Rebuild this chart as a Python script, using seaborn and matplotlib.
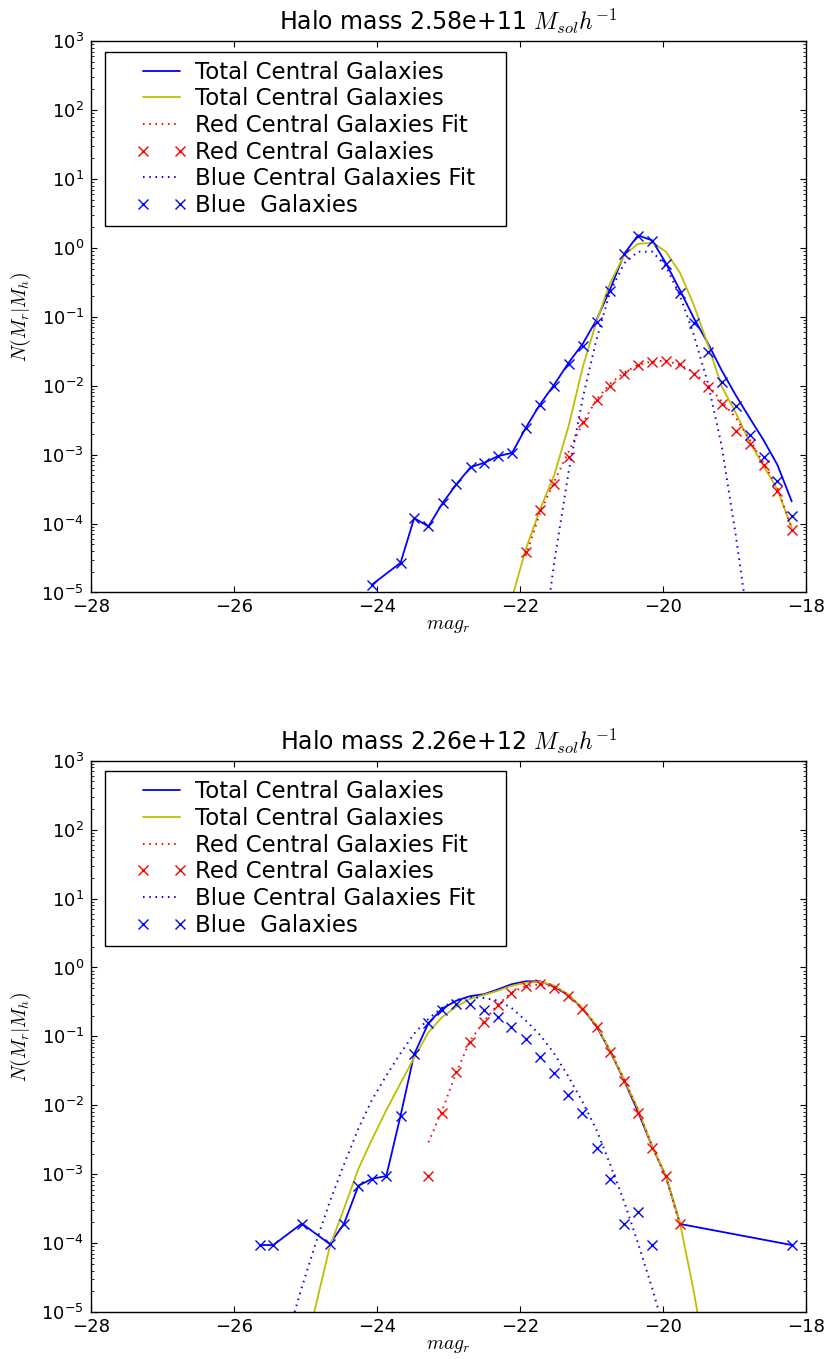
import numpy as np
import pandas as pd
import matplotlib
matplotlib.use("Agg")
import matplotlib.pyplot as plt
import seaborn as sns
from matplotlib.path import Path
from matplotlib.ticker import LogLocator, FixedLocator, NullFormatter

# ---------------- data: halo mass 2.58e+11 (top panel) ----------------
top_title = "Halo mass 2.58e+11 $M_{sol}h^{-1}$"
top_mag_blue = [-24.07, -23.67, -23.48, -23.28, -23.08, -22.89, -22.69, -22.50, -22.31, -22.11,
                -21.92, -21.72, -21.52, -21.32, -21.12, -20.93, -20.74, -20.54, -20.35, -20.15,
                -19.96, -19.76, -19.57, -19.37, -19.18, -18.98, -18.78, -18.59, -18.40, -18.20]
top_blue = [1.3e-5, 2.7e-5, 1.2e-4, 9.1e-5, 2.0e-4, 3.7e-4, 6.6e-4, 7.6e-4, 9.5e-4, 1.06e-3,
            2.4e-3, 5.2e-3, 1.0e-2, 2.06e-2, 3.8e-2, 8.4e-2, 0.24, 0.81, 1.5, 1.26,
            0.58, 0.22, 0.081, 0.031, 0.0113, 5.0e-3, 1.9e-3, 9.1e-4, 4.1e-4, 1.3e-4]
top_total = [1.3e-5, 2.7e-5, 1.2e-4, 9.1e-5, 2.0e-4, 3.7e-4, 6.6e-4, 7.6e-4, 9.5e-4, 1.06e-3,
             2.44e-3, 5.36e-3, 1.04e-2, 2.15e-2, 4.1e-2, 9.0e-2, 0.25, 0.825, 1.52, 1.28,
             0.60, 0.24, 0.096, 0.041, 0.0167, 7.2e-3, 3.3e-3, 1.6e-3, 7.1e-4, 2.1e-4]
top_mag_red = [-21.92, -21.72, -21.52, -21.32, -21.12, -20.93, -20.74, -20.54, -20.35, -20.15,
               -19.96, -19.76, -19.57, -19.37, -19.18, -18.98, -18.78, -18.59, -18.40, -18.20]
top_red = [3.9e-5, 1.56e-4, 3.8e-4, 9.3e-4, 3.0e-3, 6.3e-3, 1.0e-2, 1.5e-2, 2.0e-2, 2.2e-2,
           2.3e-2, 2.06e-2, 1.5e-2, 9.6e-3, 5.4e-3, 2.2e-3, 1.43e-3, 7.0e-4, 3.0e-4, 8.0e-5]
top_red_fit = [3.4e-5, 1.43e-4, 4.1e-4, 1.1e-3, 2.9e-3, 6.3e-3, 1.07e-2, 1.56e-2, 2.0e-2, 2.25e-2,
               2.3e-2, 2.0e-2, 1.56e-2, 1.03e-2, 5.9e-3, 3.4e-3, 1.6e-3, 7.4e-4, 3.3e-4, 8.5e-5]
top_mag_bfit = [-21.92, -21.72, -21.52, -21.32, -21.12, -20.93, -20.74, -20.54, -20.35, -20.15,
                -19.96, -19.76, -19.57, -19.37, -19.18, -18.98, -18.78, -18.59]
top_blue_fit = [1.5e-8, 8e-7, 2.8e-5, 5.6e-4, 6.8e-3, 4.7e-2, 0.23, 0.60, 0.88, 0.88,
                0.54, 0.20, 0.055, 1.07e-2, 1.35e-3, 6.5e-5, 2.2e-6, 1e-7]
top_mag_tfit = [-22.31, -22.11, -21.92, -21.72, -21.52, -21.32, -21.12, -20.93, -20.74, -20.54,
                -20.35, -20.15, -19.96, -19.76, -19.57, -19.37, -19.18, -18.98, -18.78, -18.59,
                -18.40, -18.20]
top_total_fit = [1e-6, 8.5e-6, 4.2e-5, 1.6e-4, 5.1e-4, 2.6e-3, 1.9e-2, 8.5e-2, 0.31, 0.79,
                 1.14, 1.19, 0.88, 0.43, 0.149, 0.039, 9.8e-3, 4.0e-3, 1.48e-3, 6.8e-4,
                 3.1e-4, 8.7e-5]

# ---------------- data: halo mass 2.26e+12 (bottom panel) ----------------
bot_title = "Halo mass 2.26e+12 $M_{sol}h^{-1}$"
bot_mag_blue = [-25.63, -25.45, -25.05, -24.66, -24.46, -24.26, -24.07, -23.87, -23.67, -23.48,
                -23.28, -23.09, -22.89, -22.70, -22.50, -22.31, -22.12, -21.92, -21.72, -21.53,
                -21.33, -21.13, -20.93, -20.74, -20.54, -20.35, -20.15, -18.20]
bot_blue = [9.4e-5, 9.4e-5, 1.93e-4, 9.7e-5, 1.93e-4, 6.8e-4, 8.6e-4, 9.4e-4, 7.1e-3, 5.5e-2,
            0.155, 0.244, 0.30, 0.30, 0.244, 0.19, 0.138, 0.091, 0.051, 0.029,
            0.0143, 7.7e-3, 2.4e-3, 8.4e-4, 1.9e-4, 2.8e-4, 9.4e-5, 9.4e-5]
bot_mag_total = [-25.63, -25.45, -25.05, -24.66, -24.46, -24.26, -24.07, -23.87, -23.67, -23.48,
                 -23.28, -23.09, -22.89, -22.70, -22.50, -22.31, -22.12, -21.92, -21.72, -21.53,
                 -21.33, -21.13, -20.93, -20.74, -20.54, -20.35, -20.15, -19.96, -19.76, -18.20]
bot_total = [9.4e-5, 9.4e-5, 1.93e-4, 9.7e-5, 1.93e-4, 6.8e-4, 8.6e-4, 9.4e-4, 7.1e-3, 5.5e-2,
             0.156, 0.252, 0.33, 0.383, 0.41, 0.48, 0.57, 0.63, 0.63, 0.53,
             0.40, 0.258, 0.14, 0.061, 0.0225, 8.1e-3, 2.5e-3, 9.4e-4, 1.9e-4, 9.4e-5]
bot_mag_red = [-23.28, -23.09, -22.89, -22.70, -22.50, -22.31, -22.12, -21.92, -21.72, -21.53,
               -21.33, -21.13, -20.93, -20.74, -20.54, -20.35, -20.15, -19.96, -19.76]
bot_red = [9.4e-4, 7.7e-3, 0.030, 0.083, 0.164, 0.29, 0.43, 0.54, 0.575, 0.50,
           0.39, 0.25, 0.138, 0.060, 0.0223, 7.8e-3, 2.4e-3, 9.4e-4, 1.9e-4]
bot_red_fit = [2.9e-3, 8.4e-3, 0.030, 0.086, 0.168, 0.29, 0.43, 0.54, 0.57, 0.53,
               0.40, 0.257, 0.143, 0.062, 0.0233, 8.4e-3, 2.5e-3, 9.2e-4, 1.8e-4]
bot_mag_bfit = [-25.63, -25.45, -25.25, -25.05, -24.86, -24.66, -24.46, -24.26, -24.07, -23.87,
                -23.67, -23.48, -23.28, -23.09, -22.89, -22.70, -22.50, -22.31, -22.12, -21.92,
                -21.72, -21.53, -21.33, -21.13, -20.93, -20.74, -20.54, -20.35, -20.15, -19.96]
bot_blue_fit = [1.4e-7, 7.6e-7, 4.5e-6, 2.3e-5, 9.8e-5, 4.0e-4, 1.4e-3, 4.6e-3, 0.012, 0.027,
                0.057, 0.11, 0.18, 0.26, 0.34, 0.37, 0.36, 0.33, 0.26, 0.17,
                0.105, 0.058, 0.027, 0.0115, 4.4e-3, 1.4e-3, 3.9e-4, 1.0e-4, 2.2e-5, 4.5e-6]
bot_mag_tfit = [-25.25, -25.05, -24.86, -24.66, -24.46, -24.26, -24.07, -23.87, -23.67, -23.48,
                -23.28, -23.09, -22.89, -22.70, -22.50, -22.31, -22.12, -21.92, -21.72, -21.53,
                -21.33, -21.13, -20.93, -20.74, -20.54, -20.35, -20.15, -19.96, -19.76, -19.57,
                -19.37]
bot_total_fit = [1.5e-7, 1.6e-6, 1.2e-5, 8.9e-5, 3.2e-4, 1.2e-3, 3.2e-3, 8.5e-3, 0.021, 0.049,
                 0.115, 0.19, 0.27, 0.35, 0.40, 0.46, 0.54, 0.60, 0.62, 0.55,
                 0.41, 0.26, 0.145, 0.062, 0.023, 8.9e-3, 2.5e-3, 9.5e-4, 1.9e-4, 2e-5,
                 1.3e-6]

legend_labels = ["Total Central Galaxies", "Total Central Galaxies", "Red Central Galaxies Fit",
                 "Red Central Galaxies", "Blue Central Galaxies Fit", "Blue  Galaxies"]
x_ticks = [-28, -26, -24, -22, -20, -18]
y_ticks = [1e-5, 1e-4, 1e-3, 1e-2, 1e-1, 1e0, 1e1, 1e2, 1e3]

# ---------------- style ----------------
sns.set_style("ticks")
plt.rcParams.update({
    "font.family": ["DejaVu Sans"],
    "mathtext.fontset": "cm",
    "axes.linewidth": 1.0,
    "axes.edgecolor": "black",
    "text.color": "black",
    "axes.labelcolor": "black",
    "xtick.color": "black",
    "ytick.color": "black",
    "xtick.direction": "in",
    "ytick.direction": "in",
    "xtick.top": True,
    "ytick.right": True,
    "xtick.major.size": 4,
    "ytick.major.size": 4,
    "ytick.minor.size": 2,
    "xtick.major.width": 0.8,
    "ytick.major.width": 0.8,
    "ytick.minor.width": 0.6,
    "xtick.labelsize": 13,
    "ytick.labelsize": 13,
    "xtick.major.pad": 4,
    "ytick.major.pad": 5,
})

BLUE = (0, 0, 1)
YEL = (0.75, 0.75, 0)
RED = (1, 0, 0)


def wide_box(x0, y0, width, height, mutation_size):
    px = 0.96 * mutation_size
    verts = [(x0 - px, y0), (x0 + width + px, y0), (x0 + width + px, y0 + height),
             (x0 - px, y0 + height), (x0 - px, y0)]
    return Path(verts, closed=True)


def line(ax, x, y, **kw):
    df = pd.DataFrame({"mag": x, "N": y})
    sns.lineplot(data=df, x="mag", y="N", ax=ax, estimator=None, sort=False,
                 errorbar=None, legend=False, **kw)


def panel(ax, title, mt, tot, mtf, tfit, mr, rfit, red, mbf, bfit, mb, blue):
    dot = (0, (0.8, 2.4))
    line(ax, mt, tot, color=BLUE, linewidth=1.3)
    line(ax, mtf, tfit, color=YEL, linewidth=1.3)
    line(ax, mr, rfit, color=RED, linewidth=1.4, linestyle=dot)
    line(ax, mr, red, color=RED, linestyle="", marker="x", markersize=7,
         markeredgewidth=1.0, markeredgecolor=RED)
    line(ax, mbf, bfit, color=BLUE, linewidth=1.4, linestyle=dot)
    line(ax, mb, blue, color=BLUE, linestyle="", marker="x", markersize=7,
         markeredgewidth=1.0, markeredgecolor=BLUE)

    ax.set_yscale("log")
    ax.set_xlim(-28, -18)
    ax.set_ylim(1e-5, 1e3)
    ax.xaxis.set_major_locator(FixedLocator(x_ticks))
    ax.yaxis.set_major_locator(FixedLocator(y_ticks))
    ax.yaxis.set_minor_locator(LogLocator(base=10, subs=np.arange(2, 10), numticks=200))
    ax.yaxis.set_minor_formatter(NullFormatter())
    ax.tick_params(which="both", top=True, right=True, direction="in")
    ax.set_title(title, fontsize=17, pad=8)
    ax.set_xlabel("$mag_r$", fontsize=14, labelpad=0)
    ax.set_ylabel("$N(M_r|M_h)$", fontsize=14, labelpad=6)
    for s in ax.spines.values():
        s.set_linewidth(1.0)
        s.set_color("black")

    handles = ax.get_lines()[:6]
    leg = ax.legend(handles, legend_labels, loc="upper left", bbox_to_anchor=(0.0503, 0.981),
                    borderaxespad=0, numpoints=2, fontsize=16.5, handlelength=2.22,
                    handletextpad=0.35, labelspacing=0.16, borderpad=0.4,
                    fancybox=False, framealpha=1, edgecolor="black")
    fr = leg.get_frame()
    fr.set_linewidth(1.0)
    fr.set_boxstyle(wide_box)


fig = plt.figure(figsize=(8.3, 13.59), dpi=100)
ax1, ax2 = fig.subplots(2, 1)
fig.subplots_adjust(left=0.1096, right=0.9711, top=0.9698, bottom=0.0345, hspace=0.305)

panel(ax1, top_title, top_mag_blue, top_total, top_mag_tfit, top_total_fit,
      top_mag_red, top_red_fit, top_red, top_mag_bfit, top_blue_fit, top_mag_blue, top_blue)
panel(ax2, bot_title, bot_mag_total, bot_total, bot_mag_tfit, bot_total_fit,
      bot_mag_red, bot_red_fit, bot_red, bot_mag_bfit, bot_blue_fit, bot_mag_blue, bot_blue)

fig.savefig("out.png", dpi=100)
